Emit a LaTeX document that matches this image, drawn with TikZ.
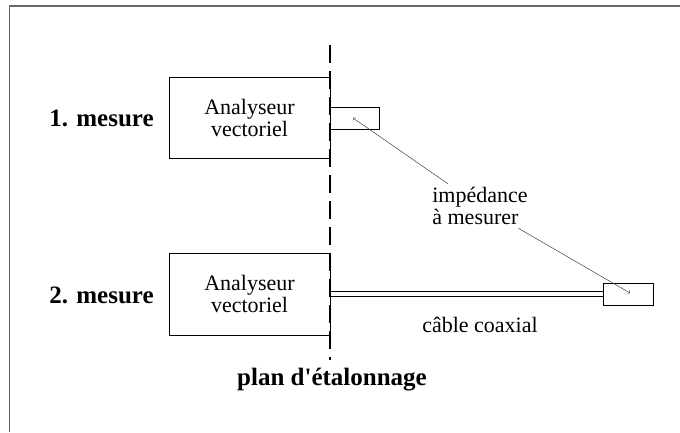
\documentclass[tikz,border=0pt]{standalone}
\usepackage{fontspec}
\setmainfont{Liberation Serif}
\usepackage{tikz}

\begin{document}
\begin{tikzpicture}[x=1pt,y=-1pt,
  appareil/.style={draw,minimum width=161pt,minimum height=81pt,align=center,
    font=\fontsize{22}{22}\selectfont},
  charge/.style={draw,minimum width=49pt,minimum height=22pt,inner sep=0pt},
  titre/.style={font=\fontsize{25}{25}\selectfont\bfseries},
  texte/.style={font=\fontsize{22}{22}\selectfont,align=left}]
\useasboundingbox (0,0) rectangle (680,432);
\draw[black!60,line width=1.5pt] (680,6) -- (9.5,6) -- (9.5,432);
% plan d'etalonnage
\coordinate (plan haut) at (330,45);
\coordinate (plan bas) at (330,360);
\draw[line width=1.3pt,dash pattern=on 18pt off 8pt] (plan haut) -- (plan bas);
\node [titre] (plan) at (332,380) {plan d\textquotesingle étalonnage};
% 1. mesure
\node [titre] (mes1) at (101.5,118) {1. mesure};
\node [appareil] (ana1) at (249.5,117.5) {Analyseur\\vectoriel};
\node [charge] (z1) at (354.5,118) {};
% 2. mesure
\node [titre] (mes2) at (101.5,295) {2. mesure};
\node [appareil,minimum height=82pt] (ana2) at (249.5,294) {Analyseur\\vectoriel};
\node [charge,minimum width=50pt] (z2) at (628,294) {};
% cable coaxial
\draw ([yshift=2.5pt]ana2.east) -- ([yshift=2.5pt]z2.west);
\draw ([yshift=-2.5pt]ana2.east) -- ([yshift=-2.5pt]z2.west);
\node [texte] (cable) at (480,325) {câble coaxial};
% impedance
\node [texte] (imp) at (480,206) {impédance\\à mesurer};
\coordinate (p1) at (353,118);
\coordinate (p2) at (630,293);
\draw [->,black!75,line width=0.5pt] (imp) -- (p1);
\draw [->,black!75,line width=0.5pt] (imp) -- (p2);
\end{tikzpicture}
\end{document}
